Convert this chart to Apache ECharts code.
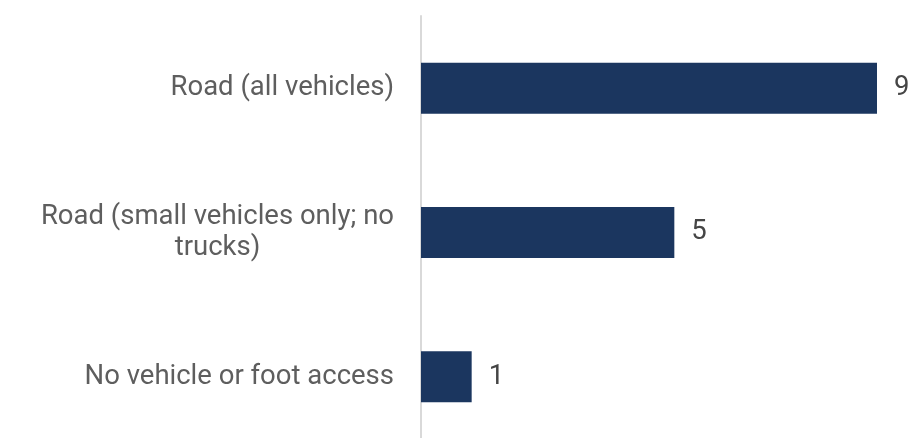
<!DOCTYPE html>
<html>
<head>
<meta charset="utf-8">
<script src="https://cdn.jsdelivr.net/npm/echarts@6/dist/echarts.min.js"></script>
<style>
  html, body { margin: 0; padding: 0; background: #ffffff; }
  #chart { width: 912px; height: 438px; }
</style>
</head>
<body>
<div id="chart"></div>
<script>
// Access types, listed top to bottom
const categories = [
  'Road (all vehicles)',
  'Road (small vehicles only; no\ntrucks)',
  'No vehicle or foot access'
];
const counts = [9, 5, 1];

const labelFont = { fontFamily: 'Roboto', fontSize: 27.5, color: '#5e5e5e' };

const chart = echarts.init(document.getElementById('chart'), null, { renderer: 'canvas' });

chart.setOption({
  animation: false,
  backgroundColor: '#ffffff',
  grid: {
    left: 421, width: 456, top: 16, height: 433,
    containLabel: false,
    outerBoundsMode: 'none'
  },
  xAxis: {
    type: 'value',
    min: 0,
    max: 9,
    show: false
  },
  yAxis: {
    type: 'category',
    inverse: true,
    data: categories,
    axisLine: { show: true, lineStyle: { color: '#d9d9d9', width: 2 } },
    axisTick: { show: false },
    axisLabel: {
      align: 'right',
      margin: 27,
      lineHeight: 31,
      // each line is centred inside the right-aligned block
      formatter: v => v.split('\n').map(l => '{c|' + l + '}').join('\n'),
      rich: {
        c: Object.assign({ align: 'center', lineHeight: 31 }, labelFont)
      }
    }
  },
  series: [{
    type: 'bar',
    data: counts,
    barCategoryGap: '64.7%',
    itemStyle: { color: '#1b365f' },
    label: {
      show: true,
      position: 'right',
      distance: 17,
      color: '#454545',
      fontFamily: 'Roboto',
      fontSize: 27.5
    }
  }]
});
</script>
</body>
</html>
